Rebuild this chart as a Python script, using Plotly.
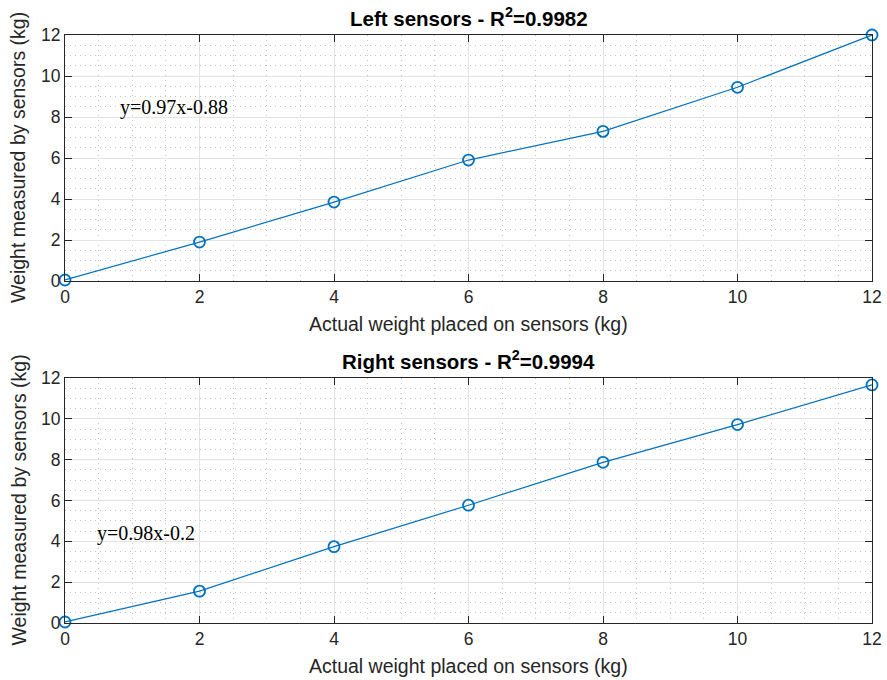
import plotly.graph_objects as go

x_vals = [0, 2, 4, 6, 8, 10, 12]
left_vals = [0.05, 1.9, 3.85, 5.9, 7.3, 9.45, 12.0]
right_vals = [0.05, 1.56, 3.74, 5.77, 7.87, 9.72, 11.66]
titles = ["<b>Left sensors - R<sup>2</sup>=0.9982</b>", "<b>Right sensors - R<sup>2</sup>=0.9994</b>"]
eqs = ["y=0.97x-0.88", "y=0.98x-0.2"]
eq_pos = [(0.79, 8.44), (0.45, 4.39)]
xlabel = "Actual weight placed on sensors (kg)"
ylabel = "Weight measured by sensors (kg)"

color = "#0072BD"
axcol = "#262626"
sans = "Liberation Sans, Arial, Helvetica"

fig = go.Figure()
H = 680 - 35 - 57
top_dom = [(623 - 281) / H, 1.0]
bot_dom = [0.0, (623 - 378) / H]

for i, (vals, dom) in enumerate([(left_vals, top_dom), (right_vals, bot_dom)]):
    xa = "x" if i == 0 else "x2"
    ya = "y" if i == 0 else "y2"
    fig.add_trace(go.Scatter(x=x_vals, y=vals, xaxis=xa, yaxis=ya, mode="lines+markers",
                             line=dict(color=color, width=1.2),
                             marker=dict(symbol="circle-open", size=11, color=color, line=dict(width=1.8)),
                             cliponaxis=False, showlegend=False))
    axcommon = dict(showline=True, linecolor=axcol, linewidth=1.2, mirror="ticks",
                    ticks="inside", ticklen=7, tickcolor=axcol, tickwidth=1,
                    showgrid=True, gridcolor="#e3e3e3", gridwidth=1.2, zeroline=False,
                    tickfont=dict(family=sans, size=17.5, color=axcol),
                    minor=dict(dtick=0.5, showgrid=True, gridcolor="#c4c4c4", griddash="1px,4px", gridwidth=1, ticks=""),
                    range=[0, 12], dtick=2, tick0=0, automargin=False)
    xkey = "xaxis" if i == 0 else "xaxis2"
    ykey = "yaxis" if i == 0 else "yaxis2"
    fig.update_layout(**{
        xkey: dict(axcommon, anchor=ya, domain=[0, 1]),
        ykey: dict(axcommon, anchor=xa, domain=dom),
    })
    # subplot title
    fig.add_annotation(x=0.5, xref="paper", y=dom[1], yref="paper", yshift=3, yanchor="bottom",
                       text=titles[i], showarrow=False,
                       font=dict(family=sans, size=20.5, color="#000000"))
    # x axis title
    fig.add_annotation(x=0.5, xref="paper", y=dom[0], yref="paper", yshift=-43, yanchor="middle",
                       text=xlabel, showarrow=False,
                       font=dict(family=sans, size=19.5, color=axcol))
    # y axis title
    fig.add_annotation(x=0, xref="paper", xshift=-47, xanchor="center", y=(dom[0] + dom[1]) / 2, yref="paper",
                       yanchor="middle", textangle=-90,
                       text=ylabel, showarrow=False,
                       font=dict(family=sans, size=19.5, color=axcol))
    # regression equation
    fig.add_annotation(x=eq_pos[i][0], y=eq_pos[i][1], xref=xa, yref=ya, xanchor="left", yanchor="middle",
                       text=eqs[i], showarrow=False,
                       font=dict(family="Liberation Serif, Times New Roman", size=20, color="#000000"))

fig.update_layout(width=887, height=680, margin=dict(l=65, r=15, t=35, b=57),
                  plot_bgcolor="white", paper_bgcolor="white")
fig.write_html("out.html")
